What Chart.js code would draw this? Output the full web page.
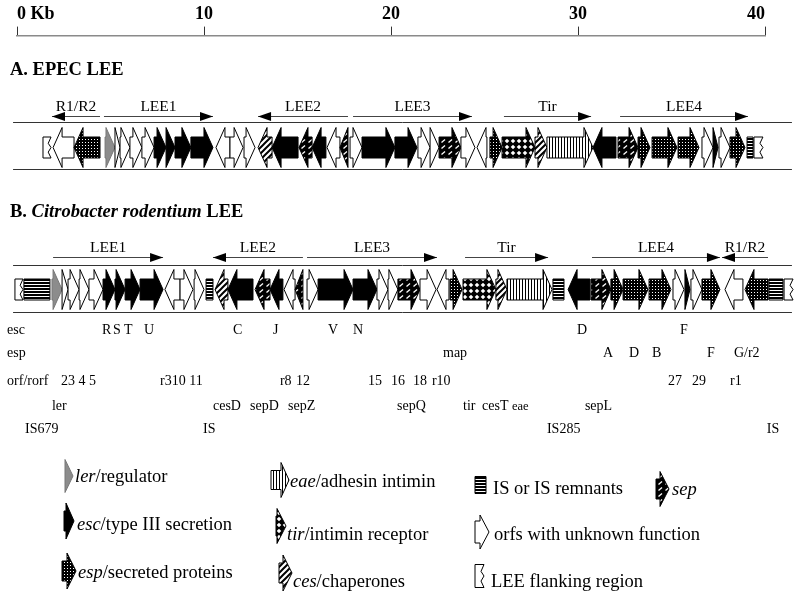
<!DOCTYPE html>
<html><head><meta charset="utf-8">
<script src="https://cdn.jsdelivr.net/npm/chart.js@4"></script>
<style>html,body{margin:0;padding:0;background:#fff}#wrap{width:800px;height:600px}</style>
</head><body><div id="wrap"><canvas id="c" width="800" height="600"></canvas></div>
<script>
// ---------------- data ----------------
const TICK_VALUES = [0, 10, 20, 30, 40];
const TICK_LABELS = ['0 Kb', '10', '20', '30', '40'];

// [startKb, endKb, strand, type]
const EPEC_GENES = [
  [1.39,1.82,0,'flank'],[1.93,3.05,-1,'orf'],[3.05,4.44,-1,'esp'],[4.71,5.24,1,'ler'],
  [5.24,5.51,1,'orf'],[5.51,6.04,1,'orf'],[6.04,6.68,1,'orf'],[6.68,7.33,1,'orf'],
  [7.33,7.97,1,'esc'],[7.97,8.45,1,'esc'],[8.45,9.30,1,'esc'],[9.30,10.48,1,'esc'],
  [10.64,11.39,-1,'orf'],[11.39,12.09,1,'orf'],[12.14,12.73,1,'orf'],[12.89,13.64,-1,'ces'],
  [13.64,15.03,-1,'esc'],[15.08,15.78,-1,'sep'],[15.78,16.52,-1,'esc'],[16.58,17.27,-1,'orf'],
  [17.27,17.70,-1,'sep'],[17.81,18.45,1,'orf'],[18.45,20.21,1,'esc'],[20.21,21.39,1,'esc'],
  [21.44,22.09,1,'orf'],[22.09,22.57,1,'orf'],[22.57,23.74,1,'sep'],[23.74,24.49,1,'orf'],
  [24.60,25.13,-1,'orf'],[25.29,25.94,1,'esp'],[25.94,27.70,1,'tir'],[27.70,28.34,1,'ces'],
  [28.34,30.80,1,'eae'],[30.80,32.03,-1,'esc'],[32.14,33.21,1,'sep'],[33.21,33.85,1,'esp'],
  [33.96,35.29,1,'esp'],[35.35,36.47,1,'esp'],[36.63,37.22,1,'orf'],[37.22,37.49,1,'esc'],
  [37.54,38.13,1,'orf'],[38.13,38.93,1,'esp'],[39.04,39.36,0,'IS'],[39.41,39.89,0,'flank']
];
const CR_GENES = [
  [-0.11,0.32,0,'flank'],[0.37,1.76,0,'IS'],[1.87,2.41,1,'ler'],[2.41,2.73,1,'orf'],
  [2.73,3.32,1,'orf'],[3.32,3.85,1,'orf'],[3.85,4.60,1,'orf'],[4.60,5.24,1,'esc'],
  [5.24,5.78,1,'esc'],[5.78,6.58,1,'esc'],[6.58,7.81,1,'esc'],[7.91,8.72,-1,'orf'],
  [8.72,9.41,1,'orf'],[9.47,10.00,1,'orf'],[10.11,10.48,0,'IS'],[10.59,11.28,-1,'ces'],
  [11.28,12.62,-1,'esc'],[12.73,13.53,-1,'sep'],[13.53,14.22,-1,'esc'],[14.28,14.87,-1,'orf'],
  [14.87,15.29,-1,'sep'],[15.51,16.10,1,'orf'],[16.10,17.97,1,'esc'],[17.97,19.25,1,'esc'],
  [19.25,19.84,1,'orf'],[19.84,20.37,1,'orf'],[20.37,21.55,1,'sep'],[21.55,22.41,1,'orf'],
  [22.46,23.10,-1,'orf'],[23.16,23.80,1,'esp'],[23.85,25.61,1,'tir'],[25.61,26.20,1,'ces'],
  [26.20,28.61,1,'eae'],[28.66,29.25,0,'IS'],[29.47,30.64,-1,'esc'],[30.70,31.76,1,'sep'],
  [31.76,32.41,1,'esp'],[32.41,33.74,1,'esp'],[33.80,34.97,1,'esp'],[35.08,35.67,1,'orf'],
  [35.72,35.99,1,'esc'],[36.04,36.63,1,'orf'],[36.63,37.59,1,'esp'],[37.86,38.82,-1,'orf'],
  [38.93,40.16,-1,'esp'],[40.21,40.96,0,'IS'],[41.02,41.50,0,'flank']
];
// [label, startKb, endKb, strand]
const EPEC_OPERONS = [['R1/R2',1.87,4.44,-1],['LEE1',4.65,10.48,1],['LEE2',12.89,17.70,-1],
  ['LEE3',17.97,24.33,1],['Tir',26.04,30.70,1],['LEE4',32.25,39.09,1]];
const CR_OPERONS = [['LEE1',1.93,7.81,1],['LEE2',10.48,15.29,-1],['LEE3',15.51,22.46,1],
  ['Tir',23.96,28.40,1],['LEE4',30.75,37.59,1],['R1/R2',37.70,40.16,-1]];

// gene name rows under the C. rodentium map: [text, leftKb]
const NAMES_ESC = [['esc',-0.53],['R',4.55],['S',5.13],['T',5.72],['U',6.79],['C',11.55],['J',13.69],
  ['V',16.63],['N',17.97],['D',29.95],['F',35.45]];
const NAMES_ESP = [['esp',-0.53],['map',22.78],['A',31.34],['D',32.73],['B',33.96],['F',36.90],['G/r2',38.34]];
const NAMES_ORF = [['orf/rorf',-0.53],['23 4 5',2.35],['r310 11',7.65],['r8',14.06],['12',14.92],
  ['15',18.77],['16',20.0],['18',21.18],['r10',22.19],['27',34.81],['29',36.10],['r1',38.13]];
const NAMES_OTHER = [['ler',1.87],['cesD',10.48],['sepD',12.46],['sepZ',14.49],['sepQ',20.32],
  ['tir',23.85],['cesT',24.87],['eae',26.47],['sepL',30.37]];
const NAMES_IS = [['IS679',0.43],['IS',9.95],['IS285',28.34],['IS',40.10]];

const LEGEND_TYPES  = ['ler','esc','esp','eae','tir','ces','IS','orf','flank','sep'];
const LEGEND_ITALIC = ['ler','esc','esp','eae','tir','ces','','','','sep'];
const LEGEND_TEXT   = ['/regulator','/type III secretion','/secreted proteins','/adhesin intimin',
  '/intimin receptor','/chaperones','IS or IS remnants','orfs with unknown function','LEE flanking region',''];

// ---------------- drawing ----------------
const SERIF = '"Liberation Serif","Times New Roman",serif';
let PATS = null;
function tile(w, h, fn){ const c = document.createElement('canvas'); c.width = w; c.height = h; const g = c.getContext('2d'); fn(g); return c; }
function makePatterns(ctx){
  const esp = tile(3,3,g=>{g.fillStyle='#000';g.fillRect(0,0,3,3);g.fillStyle='#fff';g.fillRect(1,1,1,1);});
  const sep = tile(7,6,g=>{g.fillStyle='#000';g.fillRect(0,0,7,6);g.strokeStyle='#fff';g.lineWidth=1.3;
    g.beginPath();g.moveTo(0.5,4.5);g.lineTo(4,1.5);g.stroke();});
  const ces = tile(6,6,g=>{g.fillStyle='#fff';g.fillRect(0,0,6,6);g.strokeStyle='#000';g.lineWidth=2;
    g.beginPath();g.moveTo(-1,7);g.lineTo(7,-1);g.moveTo(-1,1);g.lineTo(1,-1);g.moveTo(5,7);g.lineTo(7,5);g.stroke();});
  const tir = tile(6,6,g=>{g.fillStyle='#000';g.fillRect(0,0,6,6);g.fillStyle='#fff';
    g.beginPath();g.moveTo(3,0.7);g.lineTo(5.3,3);g.lineTo(3,5.3);g.lineTo(0.7,3);g.closePath();g.fill();});
  const eae = tile(3,1,g=>{g.fillStyle='#fff';g.fillRect(0,0,3,1);g.fillStyle='#000';g.fillRect(0,0,1,1);});
  const is = tile(1,3,g=>{g.fillStyle='#fff';g.fillRect(0,0,1,3);g.fillStyle='#000';g.fillRect(0,0,1,2);});
  const P = c => ctx.createPattern(c,'repeat');
  return {esc:'#000', ler:'#8c8c8c', orf:'#fff', flank:'#fff', esp:P(esp), sep:P(sep), ces:P(ces), tir:P(tir), eae:P(eae), IS:P(is)};
}
function geneShape(ctx, type, x1, x2, dir, yc, hh, bh, hlMax){
  ctx.save();
  ctx.lineWidth = 1; ctx.lineJoin = 'miter';
  ctx.strokeStyle = type === 'ler' ? '#777' : '#000';
  ctx.fillStyle = PATS[type];
  ctx.beginPath();
  if (type === 'IS'){
    ctx.rect(x1, yc-bh/2, x2-x1, bh);
  } else if (type === 'flank'){
    const t = yc-bh/2, b = yc+bh/2, w = x2-x1;
    ctx.moveTo(x1,t); ctx.lineTo(x2,t);
    ctx.lineTo(x2-Math.min(3,w*0.35), t+bh*0.3); ctx.lineTo(x2, t+bh*0.5);
    ctx.lineTo(x2-Math.min(3,w*0.35), t+bh*0.72); ctx.lineTo(x2,b); ctx.lineTo(x1,b); ctx.closePath();
  } else {
    const hl = Math.min(Math.abs(x2-x1), hlMax);
    if (dir >= 0){
      const m = x2-hl;
      ctx.moveTo(x1,yc-bh/2); ctx.lineTo(m,yc-bh/2); ctx.lineTo(m,yc-hh/2); ctx.lineTo(x2,yc);
      ctx.lineTo(m,yc+hh/2); ctx.lineTo(m,yc+bh/2); ctx.lineTo(x1,yc+bh/2);
    } else {
      const m = x1+hl;
      ctx.moveTo(x2,yc-bh/2); ctx.lineTo(m,yc-bh/2); ctx.lineTo(m,yc-hh/2); ctx.lineTo(x1,yc);
      ctx.lineTo(m,yc+hh/2); ctx.lineTo(m,yc+bh/2); ctx.lineTo(x2,yc+bh/2);
    }
    ctx.closePath();
  }
  ctx.fill(); ctx.stroke();
  ctx.restore();
}
function operon(ctx, label, x1, x2, dir, y, labelY){
  ctx.save();
  ctx.strokeStyle = '#444'; ctx.lineWidth = 1;
  ctx.beginPath(); ctx.moveTo(x1, y+0.5); ctx.lineTo(x2, y+0.5); ctx.stroke();
  ctx.fillStyle = '#000';
  const tip = dir > 0 ? x2 : x1, base = dir > 0 ? x2-13 : x1+13;
  ctx.beginPath(); ctx.moveTo(tip, y+0.5); ctx.lineTo(base, y-4); ctx.lineTo(base, y+5); ctx.closePath(); ctx.fill();
  ctx.font = '15.5px ' + SERIF; ctx.textAlign = 'center'; ctx.textBaseline = 'alphabetic';
  ctx.fillText(label, (x1+x2)/2, labelY);
  ctx.restore();
}
function rich(ctx, parts, x, y){
  let cx = x;
  ctx.textAlign = 'left'; ctx.textBaseline = 'alphabetic'; ctx.fillStyle = '#000';
  for (const [t, f] of parts){ if (!t) continue; ctx.font = f; ctx.fillText(t, cx, y); cx += ctx.measureText(t).width; }
}

const TRACKS = [
  {genes: EPEC_GENES, operons: EPEC_OPERONS, top: 122, bottom: 169, yc: 147.5, opY: 116, opLabel: 111},
  {genes: CR_GENES,   operons: CR_OPERONS,   top: 265, bottom: 312, yc: 289.5, opY: 257, opLabel: 252}
];
const TRACK_SPAN = [-0.21, 41.44];
const NAME_ROWS = [[NAMES_ESC, 334], [NAMES_ESP, 357], [NAMES_ORF, 385], [NAMES_OTHER, 410], [NAMES_IS, 433]];
const LEGEND_LAYOUT = [
  {x1:65, x2:73, yc:476, hh:33, bh:18, hl:8, tx:75, ty:482},
  {x1:64, x2:74, yc:521, hh:36, bh:20, hl:8, tx:77, ty:530},
  {x1:62, x2:76, yc:571, hh:36, bh:20, hl:9, tx:78, ty:578},
  {x1:271, x2:289, yc:480, hh:35, bh:19, hl:8, tx:290, ty:487},
  {x1:276, x2:286, yc:526, hh:35, bh:20, hl:9, tx:287, ty:540},
  {x1:279, x2:292, yc:573, hh:36, bh:20, hl:9, tx:293, ty:587},
  {x1:475, x2:486, yc:485, hh:17, bh:17, hl:0, tx:493, ty:494},
  {x1:475, x2:489, yc:532, hh:34, bh:22, hl:9, tx:494, ty:540},
  {x1:475, x2:484, yc:576, hh:23, bh:23, hl:0, tx:491, ty:587},
  {x1:656, x2:669, yc:489, hh:35, bh:20, hl:9, tx:672, ty:495}
];

const mapPlugin = {
  id: 'geneMap',
  afterDraw(chart){
    const ctx = chart.ctx, xs = chart.scales.x;
    const px = v => xs.getPixelForValue(v);
    if (!PATS) PATS = makePatterns(ctx);
    ctx.save();
    // section titles
    rich(ctx, [['A. EPEC LEE', 'bold 18.5px ' + SERIF]], 10, 75);
    rich(ctx, [['B. ', 'bold 18.5px ' + SERIF], ['Citrobacter rodentium', 'italic bold 18.5px ' + SERIF], [' LEE', 'bold 18.5px ' + SERIF]], 10, 217);
    for (const tr of TRACKS){
      for (const [lab, s, e, d] of tr.operons) operon(ctx, lab, px(s), px(e), d, tr.opY, tr.opLabel);
      ctx.strokeStyle = '#333'; ctx.lineWidth = 1;
      ctx.beginPath();
      ctx.moveTo(px(TRACK_SPAN[0]), tr.top+0.5); ctx.lineTo(px(TRACK_SPAN[1]), tr.top+0.5);
      ctx.moveTo(px(TRACK_SPAN[0]), tr.bottom+0.5); ctx.lineTo(px(TRACK_SPAN[1]), tr.bottom+0.5);
      ctx.stroke();
      for (const [s, e, d, t] of tr.genes) geneShape(ctx, t, px(s), px(e), d, tr.yc, 40, 21, 9);
    }
    // gene names
    ctx.fillStyle = '#000'; ctx.textAlign = 'left'; ctx.textBaseline = 'alphabetic';
    for (const [rows, y] of NAME_ROWS){
      for (const [t, k] of rows){ ctx.font = (t === 'eae' ? '12.5px ' : '14px ') + SERIF; ctx.fillText(t, px(k), y); }
    }
    // legend
    LEGEND_TYPES.forEach((t, i) => {
      const L = LEGEND_LAYOUT[i];
      geneShape(ctx, t, L.x1, L.x2, 1, L.yc, L.hh, L.bh, L.hl);
      rich(ctx, [[LEGEND_ITALIC[i], 'italic 18.5px ' + SERIF], [LEGEND_TEXT[i], '18.5px ' + SERIF]], L.tx, L.ty);
    });
    ctx.restore();
  }
};

new Chart(document.getElementById('c'), {
  type: 'scatter',
  data: { datasets: [] },
  options: {
    responsive: false, animation: false, devicePixelRatio: 1,
    layout: { padding: { left: 17, right: 35, top: 3, bottom: 0 } },
    plugins: { legend: { display: false }, tooltip: { enabled: false } },
    scales: {
      x: {
        type: 'linear', position: 'top', min: 0, max: 40,
        afterBuildTicks: s => { s.ticks = TICK_VALUES.map(v => ({ value: v })); },
        ticks: { align: 'inner', autoSkip: false, maxRotation: 0, padding: 1, color: '#000',
          font: { family: SERIF, size: 18, weight: 'bold' },
          callback: (v) => TICK_LABELS[TICK_VALUES.indexOf(v)] },
        grid: { drawOnChartArea: false, drawTicks: true, tickLength: 9, tickColor: '#333', tickWidth: 1 },
        border: { display: true, color: '#8a8a8a', width: 1.5 }
      },
      y: { display: false, min: 0, max: 1 }
    }
  },
  plugins: [mapPlugin]
});
</script>
</body></html>
